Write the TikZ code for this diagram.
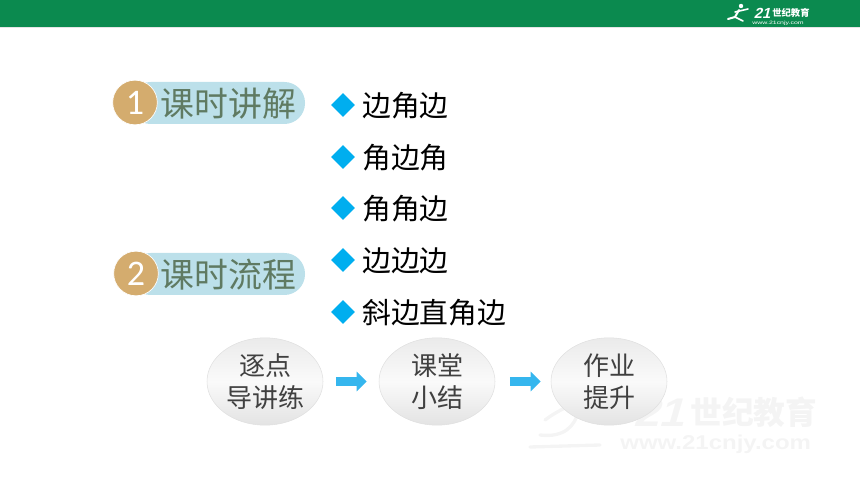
\documentclass[tikz,border=0pt]{standalone}
\usepackage{fontspec}
\setmainfont{Noto Sans CJK SC}
\newfontfamily\numfont{Carlito}
\newfontfamily\logofont{Liberation Sans}
\usetikzlibrary{shapes.geometric,arrows.meta}
\definecolor{headgreen}{HTML}{0B8A4F}
\definecolor{pillblue}{HTML}{BCE0EA}
\definecolor{discgold}{HTML}{D4AC6E}
\definecolor{titlegreen}{HTML}{5F7A62}
\definecolor{markblue}{HTML}{00AEEF}
\definecolor{flowblue}{HTML}{35B6EE}
\definecolor{markgray}{HTML}{F4F4F4}
\begin{document}
\begin{tikzpicture}[x=0.75pt,y=-0.75pt]
\tikzstyle{pill}=[fill=pillblue,rounded corners=15.5pt]
\tikzstyle{disc}=[circle,fill=discgold,draw=white,line width=0.5pt,minimum size=33.5pt,inner sep=0pt,text=white,font=\numfont\fontsize{27}{27}\selectfont]
\tikzstyle{title}=[anchor=west,inner sep=0pt,text=titlegreen,font=\fontsize{25.4}{25.4}\selectfont]
\tikzstyle{bullet}=[diamond,fill=markblue,minimum size=18pt,inner sep=0pt]
\tikzstyle{item}=[anchor=west,inner sep=0pt,text=black,font=\fontsize{21.6}{21.6}\selectfont]
\tikzstyle{stepnode}=[ellipse,minimum width=87pt,minimum height=65.5pt,inner sep=0pt,draw=black!12,line width=0.4pt,top color=black!8,bottom color=black!11,middle color=black!2,align=center,text=black!75,font=\fontsize{19.5}{24}\selectfont]
\tikzstyle{flow}=[draw=flowblue,line width=6.5pt,-{Triangle[length=7.5pt,width=14.5pt]},shorten <=9.5pt,shorten >=9pt]
    \useasboundingbox (0,0) rectangle (860,484);
    % header
    \fill [headgreen] (0,0) rectangle (860,27);
    \fill [black!10] (0,27) rectangle (860,28);
    \fill [white] (741,6) circle (2.2);
    \draw [white,line width=1.5pt,line cap=round] (739,10) -- (735,17) -- (728,19);
    \draw [white,line width=1.2pt,line cap=round] (735,12) -- (748,9);
    \draw [white,line width=1.2pt,line cap=round] (735,17) -- (743,21);
    \node [white,inner sep=0pt,anchor=west,xslant=0.25,font=\logofont\bfseries\fontsize{11}{11}\selectfont] (l) at (755,13) {21};
    \node [white,inner sep=0pt,anchor=west,font=\bfseries\fontsize{7}{7}\selectfont] (m) at (772,12.5) {世纪教育};
    \node [white,inner sep=0pt,anchor=west,xscale=1.45,font=\logofont\fontsize{3.6}{4}\selectfont] (n) at (752,23) {www.21cnjy.com};
    % watermark
    \draw [markgray,line width=2.5pt,line cap=round] (545,420) .. controls (565,405) and (585,400) .. (600,398);
    \draw [markgray,line width=2.5pt,line cap=round] (530,447) -- (600,445);
    \draw [markgray,line width=2.5pt,line cap=round] (540,435) .. controls (565,438) and (575,425) .. (578,412);
    \node [markgray,inner sep=0pt,anchor=west,xscale=1.15,xslant=0.25,font=\logofont\bfseries\fontsize{30}{30}\selectfont] (o) at (637,413) {21};
    \node [markgray,inner sep=0pt,anchor=west,font=\bfseries\fontsize{23.8}{23.8}\selectfont] (p) at (690,412) {世纪教育};
    \node [markgray,inner sep=0pt,anchor=west,xscale=1.2,font=\logofont\bfseries\fontsize{15}{15}\selectfont] (q) at (620,444) {www.21cnjy.com};
    % titles
    \fill [pill] (130,82) rectangle (305,124);
    \fill [pill] (130,253) rectangle (305,295);
    \node [disc] (a) at (135,102.5) {1};
    \node [disc] (b) at (136,273.5) {2};
    \node [title] (c) at (160.5,103.5) {课时讲解};
    \node [title] (d) at (160.5,274.5) {课时流程};
    % list
    \node [bullet] (e) at (343,105) {};
    \node [bullet] (f) at (343,157) {};
    \node [bullet] (g) at (343,208) {};
    \node [bullet] (h) at (343,260) {};
    \node [bullet] (i) at (343,312) {};
    \node [item] (j) at (362,105.5) {边角边};
    \node [item] (k) at (362,157.5) {角边角};
    \node [item] (r) at (362,208.5) {角角边};
    \node [item] (s) at (362,260.5) {边边边};
    \node [item] (t) at (362,312.5) {斜边直角边};
    % steps
    \node [stepnode] (u) at (265,381.5) {逐点\\导讲练};
    \node [stepnode] (v) at (437,381.5) {课堂\\小结};
    \node [stepnode] (w) at (609,381.5) {作业\\提升};
    \draw [flow] (u) to (v);
    \draw [flow,shorten <=11pt,shorten >=7.5pt] (v) to (w);
\end{tikzpicture}
\end{document}
